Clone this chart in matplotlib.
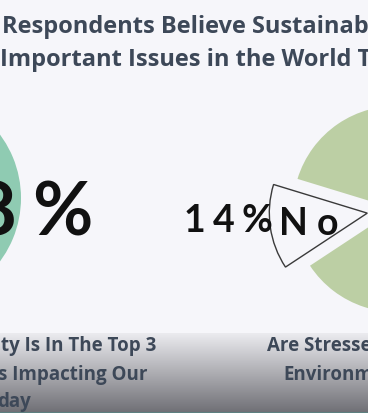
import numpy as np
import matplotlib
matplotlib.use("Agg")
import matplotlib.pyplot as plt
from matplotlib.colors import LinearSegmentedColormap

# chart values
left_values = [1]                 # left pie, only its edge is in view
left_pct_visible = "8"            # last digit of the left percentage
stressed_labels = ["No", "Yes"]
stressed_values = [14, 86]

title_lines = ["Respondents Believe Sustainab",
               "Important Issues in the World T"]
left_caption = ["ty Is In The Top 3", "s Impacting Our", "day"]
right_caption = ["Are Stresse", "Environm"]

W, H = 368, 413
BG = "#f6f6fa"
TEXT = "#3d4858"
GREEN = "#bccfa4"
TEAL = "#8fcbb2"


def Y(py):
    # screen pixel row -> data y (y up)
    return H - py


def spaced_text(ax, x, y, s, tracking, **kw):
    fig = ax.figure
    r = fig.canvas.get_renderer()
    inv = ax.transData.inverted()
    for ch in s:
        t = ax.text(x, y, ch, ha="left", va="center", **kw)
        bb = t.get_window_extent(renderer=r)
        x0 = inv.transform((bb.x0, 0))[0]
        x1 = inv.transform((bb.x1, 0))[0]
        x += (x1 - x0) + tracking


fig = plt.figure(figsize=(W / 100, H / 100), dpi=100)
fig.patch.set_facecolor(BG)
ax = fig.add_axes([0, 0, 1, 1])
ax.set_facecolor(BG)

# bottom grey fade
cmap = LinearSegmentedColormap.from_list("fade", ["#ebebef", "#6f6f75"])
grad = np.linspace(0, 1, 200).reshape(-1, 1)
ax.imshow(grad, extent=[0, W, 0, Y(333)], cmap=cmap, aspect="auto",
          origin="upper", zorder=0)
ax.axhspan(0, 1.5, color="#5d8080", zorder=0.5, lw=0)

# left pie (mostly off the slide)
ax.pie(left_values, colors=[TEAL], radius=106, center=(-85, Y(198)),
       frame=True, startangle=90)

# right pie with the exploded "No" slice
wedges, _ = ax.pie(stressed_values, colors=[BG, GREEN], radius=103,
                   center=(396, Y(209)), explode=[29, 0], startangle=163,
                   counterclock=True, frame=True)
wedges[0].set_edgecolor("#3a3a3a")
wedges[0].set_linewidth(1.0)
wedges[0].set_radius(98)

ax.set_xlim(0, W)
ax.set_ylim(0, H)
ax.set_aspect("auto")
ax.axis("off")

# title
title_kw = dict(fontsize=17, fontfamily="Open Sans", fontweight="bold",
                color=TEXT, va="center", ha="left")
ax.text(2, Y(27), title_lines[0], **title_kw)
ax.text(0, Y(60), title_lines[1], **title_kw)

# big numbers
num_kw = dict(fontsize=27, fontfamily="Lato", fontweight="bold", color="#111111")
spaced_text(ax, 184, Y(221), f"{stressed_values[0]}%", 7, **num_kw)
spaced_text(ax, 279, Y(224), stressed_labels[0], 9, **num_kw)

big_kw = dict(fontsize=53, fontfamily="Lato", fontweight="bold", color="#111111")
ax.text(16, Y(214), left_pct_visible, ha="right", va="center", **big_kw)
ax.text(32, Y(214), "%", ha="left", va="center", **big_kw)

# captions
cap_kw = dict(fontsize=13.5, fontfamily="Open Sans", fontweight="bold", color=TEXT)
left_ends = [156, 147, 31]
for line, xe, py in zip(left_caption, left_ends, [346, 375, 402]):
    ax.text(xe, Y(py), line, ha="right", va="center", **cap_kw)
for line, xs, py in zip(right_caption, [267, 283], [346, 375]):
    ax.text(xs, Y(py), line, ha="left", va="center", **cap_kw)

fig.savefig("out.png", dpi=100, facecolor=BG)
